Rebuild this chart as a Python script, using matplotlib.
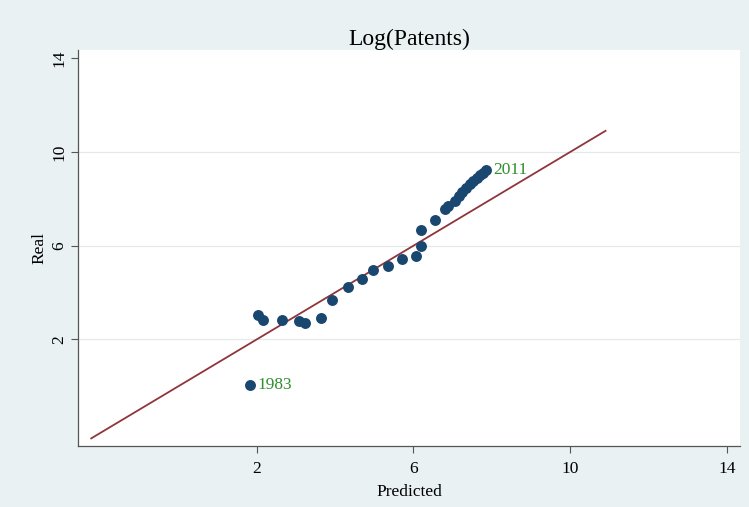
import matplotlib.pyplot as plt
import numpy as np

# predicted vs real log(patents), one point per year
years = list(range(1983, 2012))
predicted = [1.84, 2.03, 2.16, 2.64, 3.07, 3.24, 3.64, 3.93, 4.33, 4.68,
             4.96, 5.34, 5.71, 6.06, 6.20, 6.18, 6.54, 6.81, 6.88, 7.06,
             7.15, 7.24, 7.33, 7.43, 7.52, 7.61, 7.70, 7.78, 7.86]
real = [0.05, 3.05, 2.82, 2.82, 2.78, 2.72, 2.90, 3.69, 4.24, 4.60,
        4.96, 5.13, 5.45, 5.56, 6.00, 6.65, 7.08, 7.56, 7.70, 7.92,
        8.12, 8.30, 8.46, 8.62, 8.76, 8.90, 9.02, 9.12, 9.22]
line_range = [-2.22, 10.9]   # 45 degree reference line
ticks = [2, 6, 10, 14]
labelled = [1983, 2011]

plt.rcParams['font.family'] = ['Liberation Serif', 'DejaVu Serif']

fig = plt.figure(figsize=(7.49, 5.07), dpi=100)
fig.patch.set_facecolor("#e9f1f3")
ax = fig.add_axes([0.1045, 0.121, 0.8835, 0.780])
ax.set_facecolor("white")

ax.plot(line_range, line_range, color="#90353b", linewidth=1.3, zorder=2)
ax.scatter(predicted, real, s=62, color="#1a476f", zorder=3, linewidths=0)

for yr, px, ry in zip(years, predicted, real):
    if yr in labelled:
        ax.annotate(str(yr), (px, ry), xytext=(5, 0), textcoords="offset points",
                    va="center", ha="left", color="#2f8f2f", fontsize=12.5)

ax.set_xlim(-2.55, 14.33)
ax.set_ylim(-2.53, 14.34)
ax.set_xticks(ticks)
ax.set_yticks(ticks)
for g in [2, 6, 10]:
    ax.axhline(g, color="#e6e9ea", linewidth=0.9, zorder=1)

ax.tick_params(axis="both", labelsize=12.5, color="#555555", length=5, width=0.8)
ax.tick_params(axis="x", pad=6)
ax.tick_params(axis="y", pad=3)
plt.setp(ax.get_yticklabels(), rotation=90, va="center")

for side in ["top", "right"]:
    ax.spines[side].set_visible(False)
for side in ["left", "bottom"]:
    ax.spines[side].set_color("#555555")
    ax.spines[side].set_linewidth(0.9)

ax.set_title("Log(Patents)", fontsize=17, pad=3)
ax.set_xlabel("Predicted", fontsize=12.5, labelpad=5)
ax.set_ylabel("Real", fontsize=12.5, labelpad=3)

fig.savefig("out.png", dpi=100, facecolor=fig.get_facecolor())
